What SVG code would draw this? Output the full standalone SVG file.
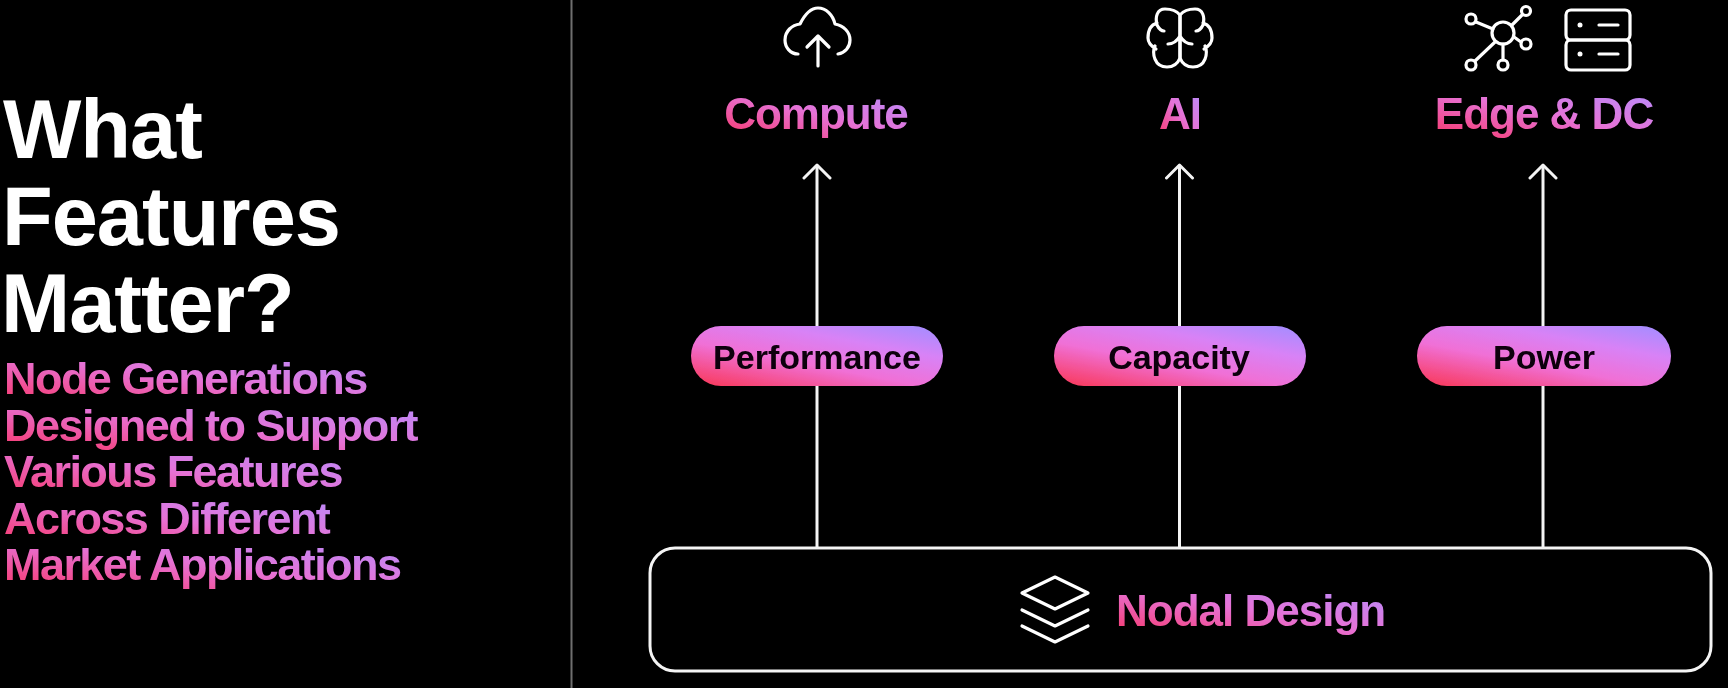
<svg xmlns="http://www.w3.org/2000/svg" xmlns:xlink="http://www.w3.org/1999/xlink" width="1728" height="688" viewBox="0 0 1728 688">
<style>
text{font-family:"Liberation Sans",Arial,sans-serif;font-weight:700}
.title{font-size:83px;fill:#fff;letter-spacing:-1px}
.sub{font-size:45px;letter-spacing:-1.550px}
.head{font-size:44px;letter-spacing:-1px;text-anchor:middle}
.pilltext{font-size:34px;fill:#0c020a;text-anchor:middle}
.ic{fill:none;stroke:#fff;stroke-width:3.200;stroke-linecap:round;stroke-linejoin:round}
.conn{fill:none;stroke:#f4f4f4;stroke-width:3}
.tip{fill:none;stroke:#f4f4f4;stroke-width:3;stroke-linecap:round;stroke-linejoin:round}
.soft{filter:url(#soft)}
</style>
<defs>
<linearGradient id="g" x1="0" y1="1" x2="1" y2="0">
<stop offset="0" stop-color="#f8386a"/><stop offset=".5" stop-color="#e672d6"/><stop offset="1" stop-color="#b68eff"/>
</linearGradient>
<linearGradient id="p" x1="0.1" y1="1" x2="0.9" y2="0">
<stop offset="0" stop-color="#f83c62"/><stop offset=".4" stop-color="#f070d6"/><stop offset=".72" stop-color="#d882f6"/><stop offset="1" stop-color="#a88cff"/>
</linearGradient>
<filter id="soft" x="-5%" y="-20%" width="110%" height="140%"><feGaussianBlur stdDeviation="0.6"/></filter>
<marker id="arrow" markerUnits="userSpaceOnUse" markerWidth="20" markerHeight="32" refX="15" refY="15" orient="auto" viewBox="0 0 20 32"><path class="tip" d="M2 2 15 15 2 28"/></marker>
</defs>
<rect width="1728" height="688" fill="#000"/>
<rect x="570.500" y="0" width="2" height="688" fill="#6e6e6e"/>

<g id="heading" class="soft">
<text class="title" x="3" y="158">What</text>
<text class="title" x="2" y="245">Features</text>
<text class="title" x="1" y="332">Matter?</text>
</g>
<g id="subheading" class="soft">
<text class="sub" x="4" y="394" fill="url(#g)">Node Generations</text>
<text class="sub" x="4" y="441" fill="url(#g)">Designed to Support</text>
<text class="sub" x="4" y="487" fill="url(#g)">Various Features</text>
<text class="sub" x="4" y="534" fill="url(#g)">Across Different</text>
<text class="sub" x="4" y="580" fill="url(#g)">Market Applications</text>
</g>

<g id="connectors">
<line class="conn" x1="817" y1="548" x2="817" y2="165" marker-end="url(#arrow)"/>
<line class="conn" x1="1179.500" y1="548" x2="1179.500" y2="165" marker-end="url(#arrow)"/>
<line class="conn" x1="1543" y1="548" x2="1543" y2="165" marker-end="url(#arrow)"/>
</g>

<g id="compute" class="soft">
<g class="ic">
<path d="M798 54C790 54 785 47 785 40C785 31 792 25 800 24C805 14 811 8 818 8C826 8 833 15 835 24C844 26 850 32 850 40C850 47 845 53 838 54"/>
<path d="M818 66V36M807 47 818 36 829 47"/>
</g>
<text class="head" x="816" y="129" fill="url(#g)">Compute</text>
</g>

<g id="ai" class="soft">
<g class="ic" id="brain">
<path id="brainhalf" d="M1180 15C1176 10 1170 9 1165 9C1157 9 1155 17 1157 25C1159 29 1161 31 1164 31M1157 23C1150 25 1148 32 1148 38C1148 43 1151 46 1156 49M1155 46C1152 53 1154 67 1167 67C1174 67 1178 63 1180 58M1168 44C1173 44 1177 41 1180 36M1180 15V58"/>
<use xlink:href="#brainhalf" href="#brainhalf" transform="translate(2360) scale(-1 1)"/>
</g>
<text class="head" x="1180" y="129" fill="url(#g)">AI</text>
</g>

<g id="edge-dc" class="soft">
<g class="ic">
<circle cx="1503" cy="33" r="11"/>
<circle cx="1471" cy="19" r="5"/><circle cx="1526" cy="11" r="4.500"/><circle cx="1526" cy="44" r="5"/><circle cx="1471" cy="65" r="5"/><circle cx="1503" cy="65" r="5"/>
<path d="M1476 22 1493 29M1512 25 1522 15M1514 37 1521 42M1495 42 1475 61M1503 44V60"/>
<rect x="1566" y="10" width="64" height="30" rx="5"/><rect x="1566" y="40" width="64" height="30" rx="5"/>
<path d="M1599 25H1618M1599 54H1618"/>
</g>
<circle cx="1580" cy="25" r="2.500" fill="#fff"/><circle cx="1580" cy="54" r="2.500" fill="#fff"/>
<text class="head" x="1544" y="129" fill="url(#g)">Edge &amp; DC</text>
</g>

<g id="performance" class="soft">
<rect x="691" y="326" width="252" height="60" rx="30" fill="url(#p)"/>
<text class="pilltext" x="817" y="369">Performance</text>
</g>
<g id="capacity" class="soft">
<rect x="1054" y="326" width="252" height="60" rx="30" fill="url(#p)"/>
<text class="pilltext" x="1179" y="369">Capacity</text>
</g>
<g id="power" class="soft">
<rect x="1417" y="326" width="254" height="60" rx="30" fill="url(#p)"/>
<text class="pilltext" x="1544" y="369">Power</text>
</g>

<g id="nodal-design">
<rect x="650" y="548" width="1061" height="123" rx="25" fill="none" stroke="#f4f4f4" stroke-width="3"/>
<g class="soft">
<path class="ic" d="M1055 577 1088 593 1055 609 1022 593ZM1022 610 1055 626 1088 610M1022 626 1055 642 1088 626"/>
<text x="1116" y="626" font-size="44" letter-spacing="-1" fill="url(#g)">Nodal Design</text>
</g>
</g>
</svg>
